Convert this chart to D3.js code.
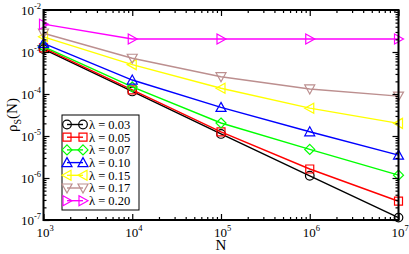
<!DOCTYPE html>
<html>
<head>
<meta charset="utf-8">
<script src="https://cdn.jsdelivr.net/npm/d3@7"></script>
<style>
  html, body { margin:0; padding:0; background:#fff; }
  svg, svg text { font-family:"Liberation Serif","Times New Roman","DejaVu Serif",serif; }
</style>
</head>
<body>
<svg id="chart" width="409" height="254"></svg>
<script>
// ---- data --------------------------------------------------------------
var Ns = [1e3, 1e4, 1e5, 1e6, 1e7];
var lambdas = ["0.03", "0.05", "0.07", "0.10", "0.15", "0.17", "0.20"];
var rho003 = [1.17e-3, 1.15e-4, 1.12e-5, 1.13e-6, 1.14e-7];
var rho005 = [1.25e-3, 1.25e-4, 1.25e-5, 1.64e-6, 2.8e-7];
var rho007 = [1.35e-3, 1.47e-4, 2.04e-5, 4.8e-6, 1.17e-6];
var rho010 = [1.6e-3, 2.15e-4, 4.8e-5, 1.26e-5, 3.5e-6];
var rho015 = [2.3e-3, 5.0e-4, 1.37e-4, 4.6e-5, 2.0e-5];
var rho017 = [2.8e-3, 7.1e-4, 2.58e-4, 1.32e-4, 8.9e-5];
var rho020 = [4.6e-3, 2.04e-3, 2.04e-3, 2.04e-3, 2.04e-3];
var xTicks = [1e3, 1e4, 1e5, 1e6, 1e7];
var yTicks = [1e-7, 1e-6, 1e-5, 1e-4, 1e-3, 1e-2];

var series = [
  { lam: lambdas[0], v: rho003, col: "#000000", sym: "circle" },
  { lam: lambdas[1], v: rho005, col: "#ff0000", sym: "square" },
  { lam: lambdas[2], v: rho007, col: "#00ff00", sym: "diamond" },
  { lam: lambdas[3], v: rho010, col: "#0000ff", sym: "up" },
  { lam: lambdas[4], v: rho015, col: "#ffff00", sym: "left" },
  { lam: lambdas[5], v: rho017, col: "#bc8f8f", sym: "down" },
  { lam: lambdas[6], v: rho020, col: "#ff00ff", sym: "right" }
];

// ---- layout ------------------------------------------------------------
var svg = d3.select("#chart");
var L = 43.5, R = 398.5, T = 10, B = 220;
var x = d3.scaleLog().domain([1e3, 1e7]).range([L, R]);
var y = d3.scaleLog().domain([1e-7, 1e-2]).range([B, T]);

function minors(d0, d1) {
  var out = [];
  for (var e = Math.log10(d0); e < Math.log10(d1); e++)
    for (var k = 2; k <= 9; k++) out.push(k * Math.pow(10, e));
  return out;
}

// marker path, centred on 0,0
function markerPath(sym) {
  var p = d3.path(), s;
  if (sym === "circle") { p.arc(0, 0, 4.3, 0, 2 * Math.PI); p.closePath(); return p.toString(); }
  if (sym === "square") { s = 4; return "M" + -s + "," + -s + "H" + s + "V" + s + "H" + -s + "Z"; }
  if (sym === "diamond") { s = 5; return "M0," + -s + "L" + s + ",0L0," + s + "L" + -s + ",0Z"; }
  s = 5;
  var tri = [[0, -s], [s, s * 0.8], [-s, s * 0.8]];
  var rot = { up: 0, right: 90, down: 180, left: 270 }[sym] * Math.PI / 180;
  return "M" + tri.map(function (q) {
    return [q[0] * Math.cos(rot) - q[1] * Math.sin(rot), q[0] * Math.sin(rot) + q[1] * Math.cos(rot)].join(",");
  }).join("L") + "Z";
}

// ---- series ------------------------------------------------------------
var line = d3.line().x(function (d, i) { return x(Ns[i]); }).y(function (d) { return y(d); });
series.forEach(function (s) {
  svg.append("path").attr("d", line(s.v)).attr("fill", "none")
    .attr("stroke", s.col).attr("stroke-width", 1.4);
  s.v.forEach(function (v, i) {
    svg.append("path").attr("d", markerPath(s.sym))
      .attr("transform", "translate(" + x(Ns[i]) + "," + y(v) + ")")
      .attr("fill", "none").attr("stroke", s.col).attr("stroke-width", 1.2);
  });
});

// ---- axes (ticks inward on all four sides) -----------------------------
function axisGroup(axis, tx, ty) {
  var g = svg.append("g").attr("transform", "translate(" + tx + "," + ty + ")").call(axis);
  g.select(".domain").remove();
  g.selectAll("line").attr("stroke", "#000").attr("stroke-width", 1.2);
  return g;
}
axisGroup(d3.axisBottom(x).tickValues(xTicks).tickSize(-6).tickFormat(""), 0, B);
axisGroup(d3.axisBottom(x).tickValues(minors(1e3, 1e7)).tickSize(-3).tickFormat(""), 0, B);
axisGroup(d3.axisTop(x).tickValues(xTicks).tickSize(-6).tickFormat(""), 0, T);
axisGroup(d3.axisTop(x).tickValues(minors(1e3, 1e7)).tickSize(-3).tickFormat(""), 0, T);
axisGroup(d3.axisLeft(y).tickValues(yTicks).tickSize(-6).tickFormat(""), L, 0);
axisGroup(d3.axisLeft(y).tickValues(minors(1e-7, 1e-2)).tickSize(-3).tickFormat(""), L, 0);
axisGroup(d3.axisRight(y).tickValues(yTicks).tickSize(-6).tickFormat(""), R, 0);
axisGroup(d3.axisRight(y).tickValues(minors(1e-7, 1e-2)).tickSize(-3).tickFormat(""), R, 0);

svg.append("rect").attr("x", L).attr("y", T).attr("width", R - L).attr("height", B - T)
  .attr("fill", "none").attr("stroke", "#000").attr("stroke-width", 2);

// power-of-ten labels
function pow10(sel, e) {
  sel.append("tspan").text("10");
  sel.append("tspan").attr("dy", -6).attr("font-size", 8.5).text(e);
}
xTicks.forEach(function (t) {
  var txt = svg.append("text").attr("x", x(t) + 1.5).attr("y", 237)
    .attr("text-anchor", "middle").attr("font-size", 13).attr("fill", "#000");
  pow10(txt, Math.round(Math.log10(t)));
});
yTicks.forEach(function (t) {
  var txt = svg.append("text").attr("x", 41).attr("y", y(t) + 5)
    .attr("text-anchor", "end").attr("font-size", 13).attr("fill", "#000");
  pow10(txt, Math.round(Math.log10(t)));
});

// axis titles
svg.append("text").attr("x", (L + R) / 2).attr("y", 250).attr("text-anchor", "middle")
  .attr("font-size", 15).text("N");
var yl = svg.append("text").attr("transform", "translate(17," + (T + B) / 2 + ") rotate(-90)")
  .attr("text-anchor", "middle").attr("font-size", 15);
yl.append("tspan").text("ρ");
yl.append("tspan").attr("dy", 4).attr("font-size", 10).text("S");
yl.append("tspan").attr("dy", -4).text("(N)");

// ---- legend ------------------------------------------------------------
var lg = svg.append("g");
lg.append("rect").attr("x", 62).attr("y", 115).attr("width", 77).attr("height", 95)
  .attr("fill", "#fff").attr("stroke", "#000").attr("stroke-width", 1);
series.forEach(function (s, i) {
  var yy = 124.5 + i * 12.7;
  lg.append("line").attr("x1", 67).attr("x2", 83).attr("y1", yy).attr("y2", yy)
    .attr("stroke", s.col).attr("stroke-width", 1.4);
  [67, 83].forEach(function (xx) {
    lg.append("path").attr("d", markerPath(s.sym))
      .attr("transform", "translate(" + xx + "," + yy + ")")
      .attr("fill", "none").attr("stroke", s.col).attr("stroke-width", 1.2);
  });
  lg.append("text").attr("x", 89).attr("y", yy + 4.3).attr("font-size", 12.5)
    .text("λ = " + s.lam);
});
</script>
</body>
</html>
